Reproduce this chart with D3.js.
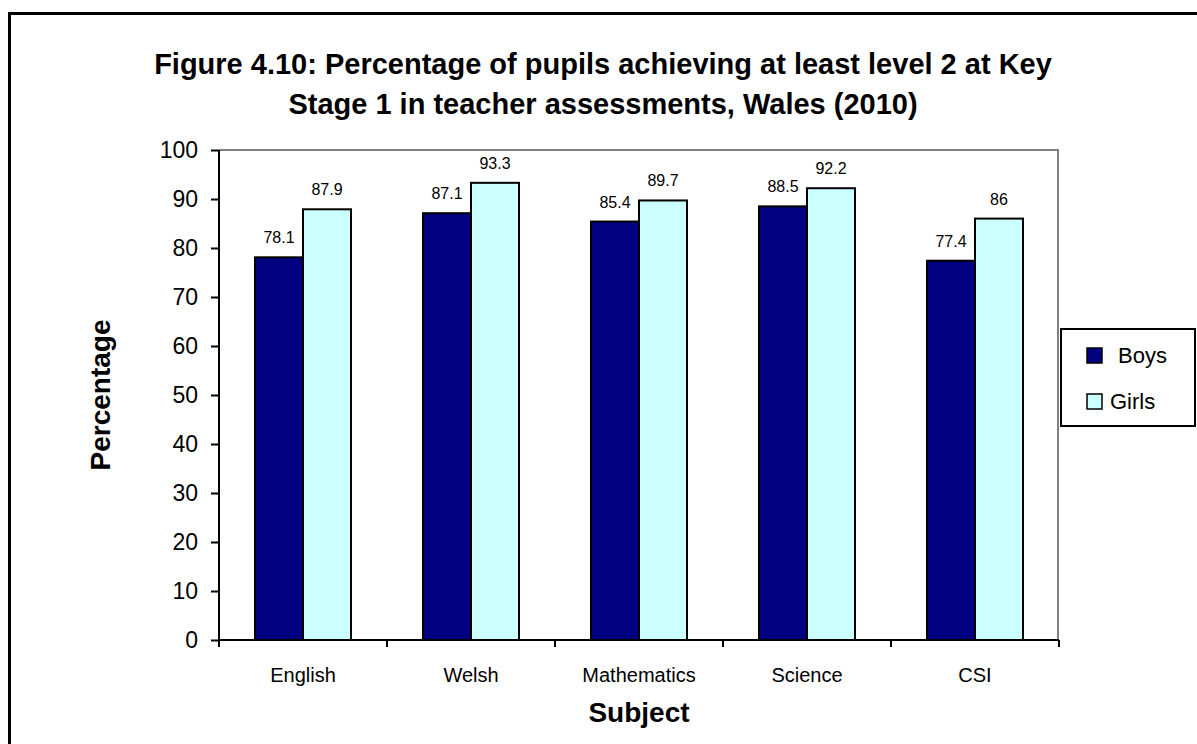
<!DOCTYPE html>
<html>
<head>
<meta charset="utf-8">
<script src="https://cdn.jsdelivr.net/npm/d3@7"></script>
<style>
  body { margin: 0; background: #fff; }
  text { font-family: "Liberation Sans", Arial, sans-serif; fill: #000; }
</style>
</head>
<body>
<div id="chart"></div>
<script>
// chart values
const subjects = ['English', 'Welsh', 'Mathematics', 'Science', 'CSI'];
const seriesNames = ['Boys', 'Girls'];
const boys = [78.1, 87.1, 85.4, 88.5, 77.4];
const girls = [87.9, 93.3, 89.7, 92.2, 86];
const yTicks = [0, 10, 20, 30, 40, 50, 60, 70, 80, 90, 100];
const colors = ['#000080', '#CCFFFF'];
const titleLines = [
    'Figure 4.10: Percentage of pupils achieving at least level 2 at Key',
    'Stage 1 in teacher assessments, Wales (2010)'
];

const svg = d3.select('#chart')
    .append('svg')
    .attr('width', 1197)
    .attr('height', 744);

// outer frame (runs off the right and bottom edge like the source)
svg.append('rect')
    .attr('x', 9.5).attr('y', 13.5)
    .attr('width', 1300).attr('height', 800)
    .attr('fill', 'none')
    .attr('stroke', 'black')
    .attr('stroke-width', 3);

const plotLeft = 219, plotRight = 1059, plotTop = 150, plotBottom = 640;

const x = d3.scaleBand().domain(subjects).range([plotLeft, plotRight]).paddingInner(0).paddingOuter(0);
const x1 = d3.scaleBand().domain(seriesNames).range([36, 132]);
const y = d3.scaleLinear().domain([0, 100]).range([plotBottom, plotTop]);

// plot area border (gray top + right)
svg.append('path')
    .attr('d', `M${plotLeft},${plotTop}H${plotRight - 1}V${plotBottom}`)
    .attr('fill', 'none')
    .attr('stroke', '#808080')
    .attr('stroke-width', 2);

// title
svg.append('g').selectAll('text')
    .data(titleLines)
    .join('text')
    .attr('x', 603)
    .attr('y', (d, i) => 74 + i * 40)
    .attr('text-anchor', 'middle')
    .attr('font-size', '29px')
    .attr('font-weight', 'bold')
    .text(d => d);

// bars
const series = [boys, girls];
const groups = svg.append('g').selectAll('g')
    .data(subjects)
    .join('g')
    .attr('transform', d => `translate(${x(d)},0)`);

groups.selectAll('rect')
    .data((d, i) => seriesNames.map((s, k) => ({ s: s, v: series[k][i], k: k })))
    .join('rect')
    .attr('x', d => x1(d.s))
    .attr('y', d => y(d.v))
    .attr('width', x1.bandwidth())
    .attr('height', d => y(0) - y(d.v))
    .attr('fill', d => colors[d.k])
    .attr('stroke', 'black')
    .attr('stroke-width', 2);

groups.selectAll('text')
    .data((d, i) => seriesNames.map((s, k) => ({ s: s, v: series[k][i], k: k })))
    .join('text')
    .attr('x', d => x1(d.s) + x1.bandwidth() / 2)
    .attr('y', d => y(d.v) - 14)
    .attr('text-anchor', 'middle')
    .attr('font-size', '16px')
    .text(d => d.v);

// y axis
const yAxis = svg.append('g')
    .attr('transform', `translate(${plotLeft},0)`)
    .call(d3.axisLeft(y).tickValues(yTicks).tickSize(8).tickPadding(13));
yAxis.selectAll('path, line').attr('stroke', 'black').attr('stroke-width', 2);
yAxis.select('.domain').attr('d', `M0,${plotTop}V${plotBottom}`);
yAxis.selectAll('text')
    .attr('font-size', '23px')
    .attr('font-family', '"Liberation Sans", Arial, sans-serif')
    .attr('fill', 'black');

// x axis
const xAxis = svg.append('g')
    .attr('transform', `translate(0,${plotBottom})`)
    .call(d3.axisBottom(x).tickSize(0).tickPadding(28));
xAxis.select('.domain').attr('d', `M${plotLeft},0H${plotRight}`).attr('stroke', 'black').attr('stroke-width', 2);
xAxis.selectAll('text')
    .attr('font-size', '20px')
    .attr('font-family', '"Liberation Sans", Arial, sans-serif')
    .attr('fill', 'black');
// category separators
xAxis.append('g').selectAll('line')
    .data(subjects.concat(['end']))
    .join('line')
    .attr('x1', (d, i) => i < subjects.length ? x(d) : plotRight)
    .attr('x2', (d, i) => i < subjects.length ? x(d) : plotRight)
    .attr('y1', 0).attr('y2', 7)
    .attr('stroke', 'black')
    .attr('stroke-width', 2);

// axis titles
svg.append('text')
    .attr('transform', `translate(110,${(plotTop + plotBottom) / 2}) rotate(-90)`)
    .attr('text-anchor', 'middle')
    .attr('font-size', '28px')
    .attr('font-weight', 'bold')
    .text('Percentage');

svg.append('text')
    .attr('x', (plotLeft + plotRight) / 2)
    .attr('y', 722)
    .attr('text-anchor', 'middle')
    .attr('font-size', '28px')
    .attr('font-weight', 'bold')
    .text('Subject');

// legend
const legend = svg.append('g');
legend.append('rect')
    .attr('x', 1061).attr('y', 329)
    .attr('width', 134).attr('height', 97)
    .attr('fill', 'white')
    .attr('stroke', 'black')
    .attr('stroke-width', 2);

const items = legend.selectAll('g.item')
    .data(seriesNames)
    .join('g')
    .attr('class', 'item')
    .attr('transform', (d, i) => `translate(1087,${348 + i * 46})`);

items.append('rect')
    .attr('width', 15).attr('height', 15)
    .attr('fill', (d, i) => colors[i])
    .attr('stroke', 'black')
    .attr('stroke-width', 1.5);

items.append('text')
    .attr('x', (d, i) => i === 0 ? 31 : 23)
    .attr('y', 15)
    .attr('font-size', '22px')
    .text(d => d);
</script>
</body>
</html>
